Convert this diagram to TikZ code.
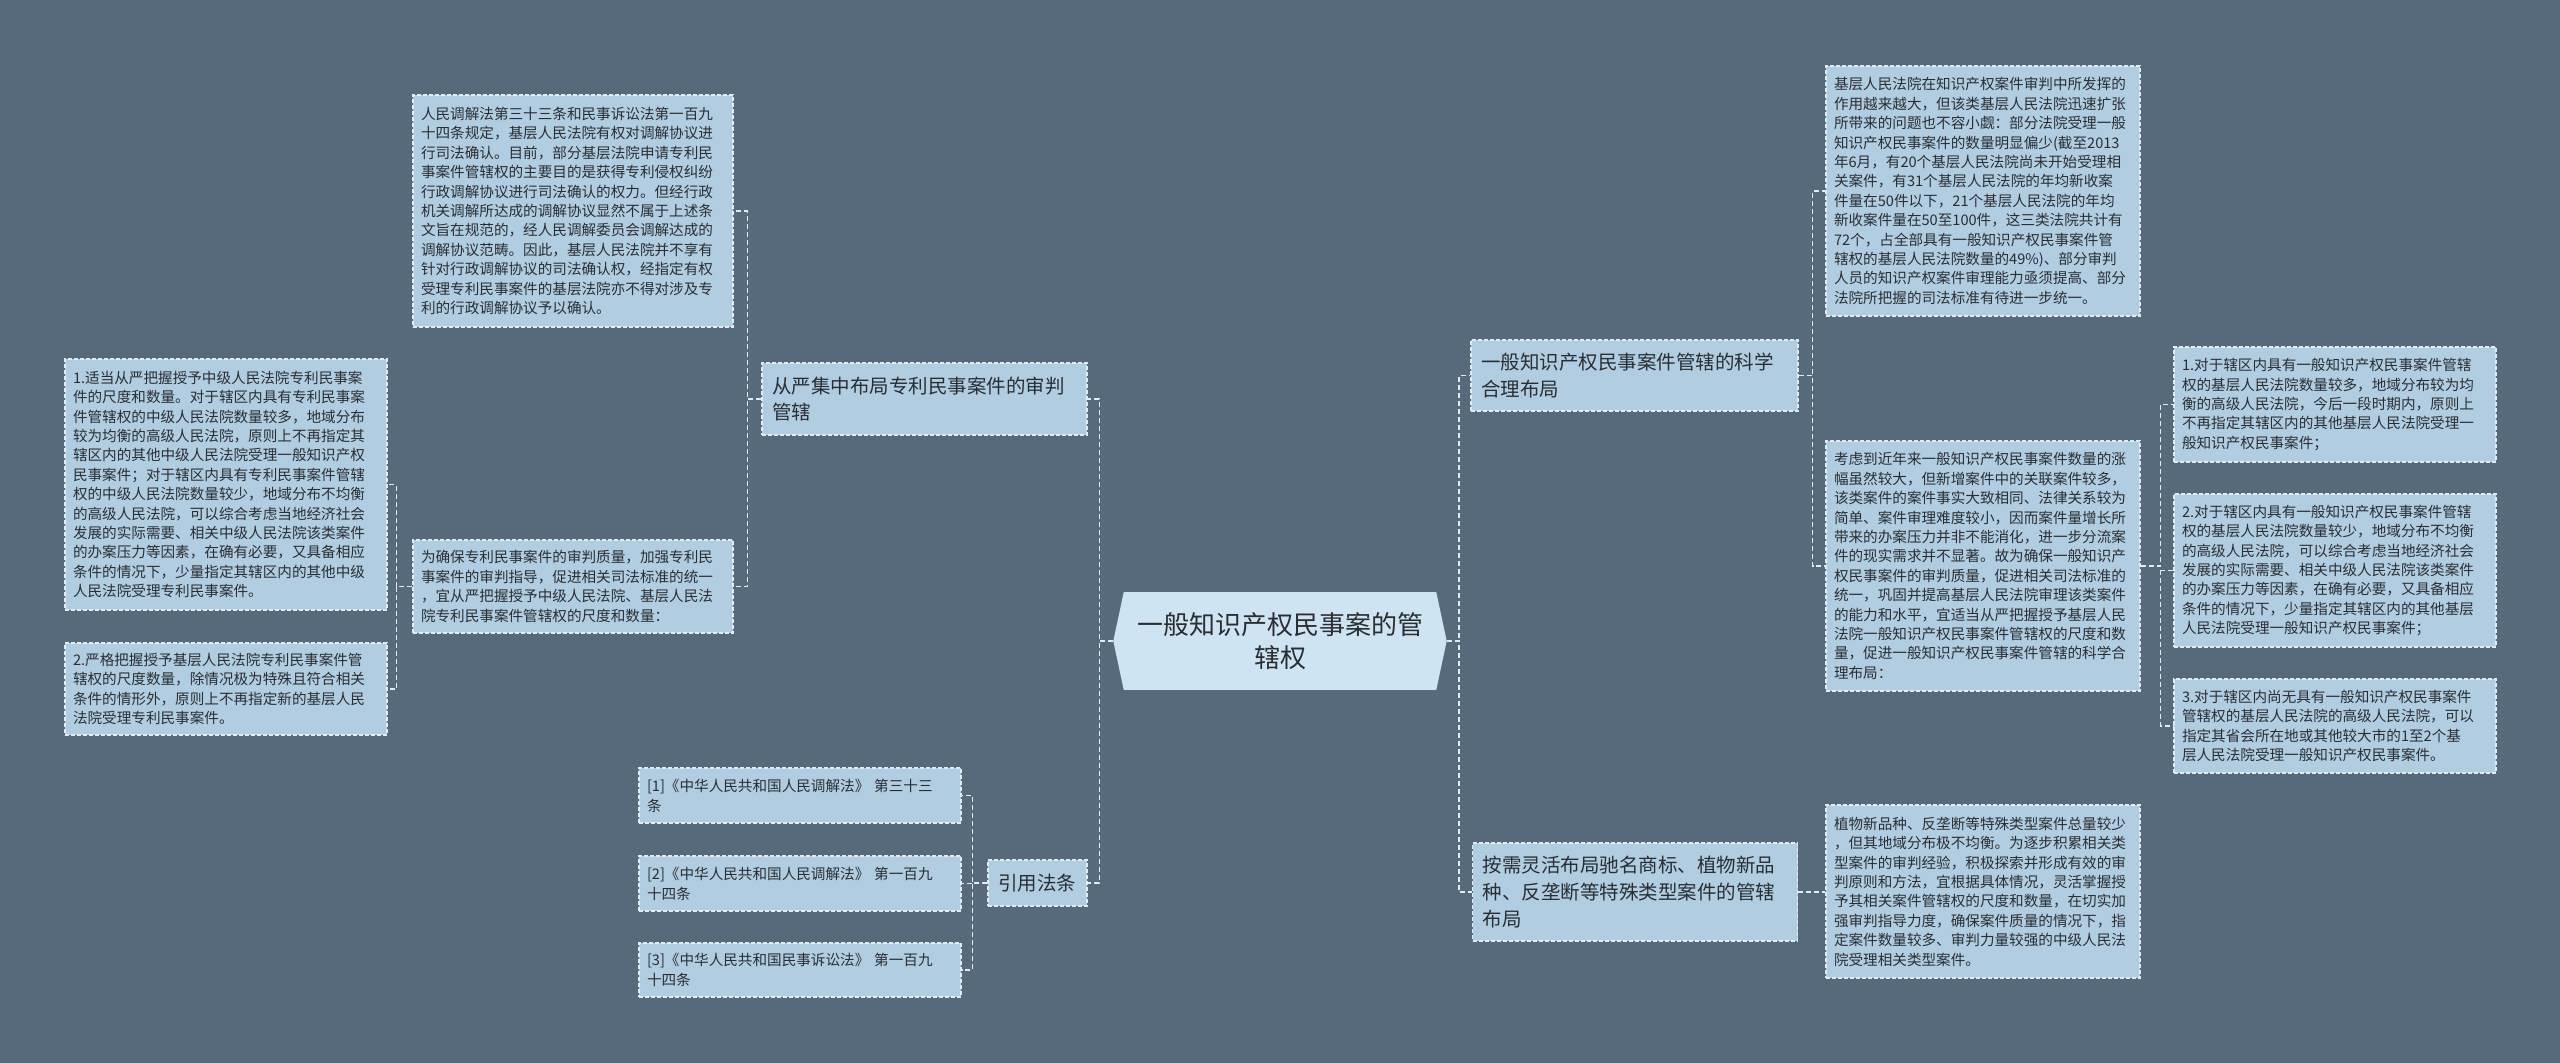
\documentclass[tikz,border=0pt]{standalone}
\usepackage{fontspec}
\setmainfont{Noto Sans CJK SC}
\definecolor{bgc}{HTML}{566A7B}
\definecolor{boxc}{HTML}{B1CDE2}
\definecolor{ctrc}{HTML}{CFE4F2}
\definecolor{linec}{HTML}{E2EBF2}
\definecolor{txtc}{HTML}{2A2E33}
\tikzset{
  leaf/.style={rectangle, draw=linec, dash pattern=on 4pt off 2pt, line width=1.1pt,
    fill=boxc, text=txtc, align=left, inner xsep=8pt, inner ysep=0pt,
    font=\fontsize{14.6}{19.4}\selectfont},
  cite/.style={leaf, font=\fontsize{14.6}{20}\selectfont},
  branch/.style={leaf, inner xsep=10pt, font=\fontsize{19.5}{26.7}\selectfont},
  ctr/.style={rectangle, fill=ctrc, text=txtc, align=center, inner sep=0pt,
    minimum width=312pt, minimum height=98pt, text width=300pt,
    font=\fontsize{26}{33}\selectfont},
  conn/.style={draw=linec, line width=1.5pt, dash pattern=on 5pt off 3pt},
}
\begin{document}
\begin{tikzpicture}[x=1pt,y=-1pt]
\fill[bgc] (0,0) rectangle (2560,1063);
\useasboundingbox (0,0) rectangle (2560,1063);

% centre
\node[ctr] (c) at (1280,641) {一般知识产权民事案的管\\辖权};
\fill[ctrc] (c.north west) -- ([xshift=-10.5pt]c.west) -- (c.south west) -- cycle;
\fill[ctrc] (c.north east) -- ([xshift=10.5pt]c.east) -- (c.south east) -- cycle;
\coordinate (cl) at ([xshift=-10.5pt]c.west);
\coordinate (cr) at ([xshift=10.5pt]c.east);

% left branches
\node[branch, minimum width=325pt, text width=305pt, minimum height=72pt] (L1) at (924.5,399) {从严集中布局专利民事案件的审判\\管辖};
\node[branch, minimum width=99pt, text width=79pt, minimum height=46pt] (cite) at (1037.5,883) {引用法条};

\node[leaf, minimum width=320pt, text width=304pt, minimum height=232pt] (t1) at (573,211) {人民调解法第三十三条和民事诉讼法第一百九\\十四条规定，基层人民法院有权对调解协议进\\行司法确认。目前，部分基层法院申请专利民\\事案件管辖权的主要目的是获得专利侵权纠纷\\行政调解协议进行司法确认的权力。但经行政\\机关调解所达成的调解协议显然不属于上述条\\文旨在规范的，经人民调解委员会调解达成的\\调解协议范畴。因此，基层人民法院并不享有\\针对行政调解协议的司法确认权，经指定有权\\受理专利民事案件的基层法院亦不得对涉及专\\利的行政调解协议予以确认。};
\node[leaf, minimum width=320pt, text width=304pt, minimum height=93pt] (t2) at (573,586.5) {为确保专利民事案件的审判质量，加强专利民\\事案件的审判指导，促进相关司法标准的统一\\，宜从严把握授予中级人民法院、基层人民法\\院专利民事案件管辖权的尺度和数量：};
\node[leaf, minimum width=322pt, text width=306pt, minimum height=251pt] (l1a) at (226,484.5) {1.适当从严把握授予中级人民法院专利民事案\\件的尺度和数量。对于辖区内具有专利民事案\\件管辖权的中级人民法院数量较多，地域分布\\较为均衡的高级人民法院，原则上不再指定其\\辖区内的其他中级人民法院受理一般知识产权\\民事案件；对于辖区内具有专利民事案件管辖\\权的中级人民法院数量较少，地域分布不均衡\\的高级人民法院，可以综合考虑当地经济社会\\发展的实际需要、相关中级人民法院该类案件\\的办案压力等因素，在确有必要，又具备相应\\条件的情况下，少量指定其辖区内的其他中级\\人民法院受理专利民事案件。};
\node[leaf, minimum width=322pt, text width=306pt, minimum height=92pt] (l1b) at (226,689) {2.严格把握授予基层人民法院专利民事案件管\\辖权的尺度数量，除情况极为特殊且符合相关\\条件的情形外，原则上不再指定新的基层人民\\法院受理专利民事案件。};

\node[cite, minimum width=322pt, text width=306pt, minimum height=55pt] (c1) at (800,795.5) {[1]《中华人民共和国人民调解法》 第三十三\\条};
\node[cite, minimum width=322pt, text width=306pt, minimum height=55pt] (c2) at (800,883.5) {[2]《中华人民共和国人民调解法》 第一百九\\十四条};
\node[cite, minimum width=322pt, text width=306pt, minimum height=54pt] (c3) at (800,970) {[3]《中华人民共和国民事诉讼法》 第一百九\\十四条};

% right branches
\node[branch, minimum width=327pt, text width=307pt, minimum height=71pt] (R1) at (1634.5,375.5) {一般知识产权民事案件管辖的科学\\合理布局};
\node[branch, minimum width=325pt, text width=305pt, minimum height=98pt] (R2) at (1635,892) {按需灵活布局驰名商标、植物新品\\种、反垄断等特殊类型案件的管辖\\布局};

\node[leaf, minimum width=314pt, text width=298pt, minimum height=250pt] (r1a) at (1983,191) {基层人民法院在知识产权案件审判中所发挥的\\作用越来越大，但该类基层人民法院迅速扩张\\所带来的问题也不容小觑：部分法院受理一般\\知识产权民事案件的数量明显偏少(截至2013\\年6月，有20个基层人民法院尚未开始受理相\\关案件，有31个基层人民法院的年均新收案\\件量在50件以下，21个基层人民法院的年均\\新收案件量在50至100件，这三类法院共计有\\72个，占全部具有一般知识产权民事案件管\\辖权的基层人民法院数量的49\%)、部分审判\\人员的知识产权案件审理能力亟须提高、部分\\法院所把握的司法标准有待进一步统一。};
\node[leaf, minimum width=314pt, text width=298pt, minimum height=250pt] (r1b) at (1983,566) {考虑到近年来一般知识产权民事案件数量的涨\\幅虽然较大，但新增案件中的关联案件较多，\\该类案件的案件事实大致相同、法律关系较为\\简单、案件审理难度较小，因而案件量增长所\\带来的办案压力并非不能消化，进一步分流案\\件的现实需求并不显著。故为确保一般知识产\\权民事案件的审判质量，促进相关司法标准的\\统一，巩固并提高基层人民法院审理该类案件\\的能力和水平，宜适当从严把握授予基层人民\\法院一般知识产权民事案件管辖权的尺度和数\\量，促进一般知识产权民事案件管辖的科学合\\理布局：};
\node[leaf, minimum width=314pt, text width=298pt, minimum height=173pt] (r2a) at (1983,891.5) {植物新品种、反垄断等特殊类型案件总量较少\\，但其地域分布极不均衡。为逐步积累相关类\\型案件的审判经验，积极探索并形成有效的审\\判原则和方法，宜根据具体情况，灵活掌握授\\予其相关案件管辖权的尺度和数量，在切实加\\强审判指导力度，确保案件质量的情况下，指\\定案件数量较多、审判力量较强的中级人民法\\院受理相关类型案件。};

\node[leaf, minimum width=322pt, text width=306pt, minimum height=115pt] (f1) at (2335,404.5) {1.对于辖区内具有一般知识产权民事案件管辖\\权的基层人民法院数量较多，地域分布较为均\\衡的高级人民法院，今后一段时期内，原则上\\不再指定其辖区内的其他基层人民法院受理一\\般知识产权民事案件；};
\node[leaf, minimum width=322pt, text width=306pt, minimum height=153pt] (f2) at (2335,570.5) {2.对于辖区内具有一般知识产权民事案件管辖\\权的基层人民法院数量较少，地域分布不均衡\\的高级人民法院，可以综合考虑当地经济社会\\发展的实际需要、相关中级人民法院该类案件\\的办案压力等因素，在确有必要，又具备相应\\条件的情况下，少量指定其辖区内的其他基层\\人民法院受理一般知识产权民事案件；};
\node[leaf, minimum width=322pt, text width=306pt, minimum height=94pt] (f3) at (2335,726) {3.对于辖区内尚无具有一般知识产权民事案件\\管辖权的基层人民法院的高级人民法院，可以\\指定其省会所在地或其他较大市的1至2个基\\层人民法院受理一般知识产权民事案件。};

% connectors
\draw[conn] (cl) -- ++(-14,0) |- (L1.east);
\draw[conn] (cl) -- ++(-14,0) |- (cite.east);
\draw[conn] (cr) -- ++(12.5,0) |- (R1.west);
\draw[conn] (cr) -- ++(12.5,0) |- (R2.west);
\draw[conn] (L1.west) -- ++(-14,0) |- (t1.east);
\draw[conn] (L1.west) -- ++(-14,0) |- (t2.east);
\draw[conn] (t2.west) -- ++(-16,0) |- (l1a.east);
\draw[conn] (t2.west) -- ++(-16,0) |- (l1b.east);
\draw[conn] (cite.west) -- ++(-15,0) |- (c1.east);
\draw[conn] (cite.west) -- ++(-15,0) |- (c2.east);
\draw[conn] (cite.west) -- ++(-15,0) |- (c3.east);
\draw[conn] (R1.east) -- ++(14,0) |- (r1a.west);
\draw[conn] (R1.east) -- ++(14,0) |- (r1b.west);
\draw[conn] (r1b.east) -- ++(20,0) |- (f1.west);
\draw[conn] (r1b.east) -- ++(20,0) |- (f2.west);
\draw[conn] (r1b.east) -- ++(20,0) |- (f3.west);
\draw[conn] (R2.east) -- (R2.east -| r2a.west);
\end{tikzpicture}
\end{document}
